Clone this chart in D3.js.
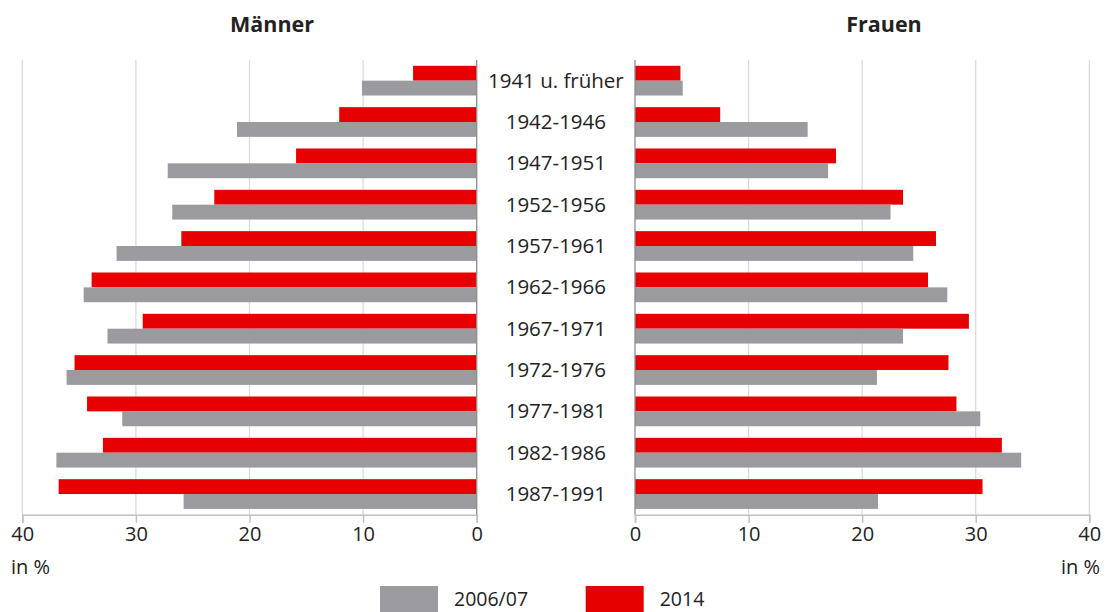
<!DOCTYPE html>
<html>
<head>
<meta charset="utf-8">
<script src="https://cdn.jsdelivr.net/npm/d3@7"></script>
<style>
  body { margin: 0; background: #fff; }
  svg { display: block; font-family: "Open Sans", sans-serif; }
</style>
</head>
<body>
<div id="chart"></div>
<script>
//categories (birth cohorts), top to bottom
let cohorts = ["1941 u. früher", "1942-1946", "1947-1951", "1952-1956", "1957-1961",
  "1962-1966", "1967-1971", "1972-1976", "1977-1981", "1982-1986", "1987-1991"];

let seriesNames = ["2014", "2006/07"];

//values in %
let men2014 = [5.6, 12.1, 15.9, 23.1, 26.0, 33.9, 29.4, 35.4, 34.3, 32.9, 36.8];
let men2006 = [10.1, 21.1, 27.2, 26.8, 31.7, 34.6, 32.5, 36.1, 31.2, 37.0, 25.8];
let women2014 = [4.0, 7.5, 17.7, 23.6, 26.5, 25.8, 29.4, 27.6, 28.3, 32.3, 30.6];
let women2006 = [4.2, 15.2, 17.0, 22.5, 24.5, 27.5, 23.6, 21.3, 30.4, 34.0, 21.4];

let ticks = [0, 10, 20, 30, 40];

let colors = { "2014": "#e60000", "2006/07": "#9b9a9f" };

let width = 1106, height = 612;
let plotTop = 60, plotBottom = 514.7;

let svg = d3.select("#chart").append("svg")
  .attr("width", width)
  .attr("height", height);

//scales
let xLeft = d3.scaleLinear().domain([0, 40]).range([476.7, 22.3]);
let xRight = d3.scaleLinear().domain([0, 40]).range([635, 1089.3]);

let y = d3.scaleBand().domain(cohorts).range([plotTop, plotBottom]);
let ySub = d3.scaleBand().domain(seriesNames).range([0, y.bandwidth()])
  .paddingInner(0).paddingOuter(0.39);

function drawSide(x, values2014, values2006, title, titleX, leftSide) {
  let g = svg.append("g");

  //gridlines
  g.selectAll(".grid")
    .data(ticks.filter(t => t !== 0))
    .enter().append("line")
    .attr("x1", d => x(d)).attr("x2", d => x(d))
    .attr("y1", plotTop).attr("y2", plotBottom)
    .attr("stroke", "#d9d9d9")
    .attr("stroke-width", 1.2);

  //bars
  let rows = cohorts.map((c, i) => ({ c: c, v: { "2014": values2014[i], "2006/07": values2006[i] } }));
  seriesNames.forEach(s => {
    g.selectAll(".bar-" + s.replace("/", ""))
      .data(rows)
      .enter().append("rect")
      .attr("x", d => Math.min(x(0), x(d.v[s])))
      .attr("width", d => Math.abs(x(d.v[s]) - x(0)))
      .attr("y", d => y(d.c) + ySub(s))
      .attr("height", ySub.bandwidth())
      .attr("fill", colors[s]);
  });

  //axis
  let axis = d3.axisBottom(x).tickValues(ticks).tickSize(8).tickPadding(4).tickFormat(d3.format("d"));
  let ax = g.append("g")
    .attr("transform", "translate(0," + plotBottom + ")")
    .call(axis);
  ax.select(".domain").attr("stroke", "#bfbfbf").attr("stroke-width", 1.5);
  ax.selectAll(".tick line").attr("stroke", "#bfbfbf").attr("stroke-width", 1.5);
  ax.selectAll(".tick text")
    .attr("font-family", "Open Sans, sans-serif")
    .attr("font-size", 20)
    .attr("fill", "#222");

  //zero line
  g.append("line")
    .attr("x1", x(0)).attr("x2", x(0))
    .attr("y1", plotTop).attr("y2", plotBottom)
    .attr("stroke", "#8c8c8c")
    .attr("stroke-width", 1.3);

  //unit label
  g.append("text")
    .attr("x", leftSide ? 11 : 1100)
    .attr("y", 574)
    .attr("text-anchor", leftSide ? "start" : "end")
    .attr("font-size", 20)
    .attr("fill", "#222")
    .text("in %");

  //title
  g.append("text")
    .attr("x", titleX)
    .attr("y", 32)
    .attr("text-anchor", "middle")
    .attr("font-size", 21.5)
    .attr("font-weight", "bold")
    .attr("fill", "#222")
    .text(title);
}

drawSide(xLeft, men2014, men2006, "Männer", 272, true);
drawSide(xRight, women2014, women2006, "Frauen", 884, false);

//cohort labels in the middle
svg.append("g")
  .selectAll(".cohort")
  .data(cohorts)
  .enter().append("text")
  .attr("x", (xLeft(0) + xRight(0)) / 2)
  .attr("y", d => y(d) + y.bandwidth() / 2 + 7)
  .attr("text-anchor", "middle")
  .attr("font-size", 20.5)
  .attr("fill", "#222")
  .text(d => d);

//legend
let legend = [
  { name: "2006/07", x: 380 },
  { name: "2014", x: 585.7 }
];
let lg = svg.append("g");
lg.selectAll("rect")
  .data(legend)
  .enter().append("rect")
  .attr("x", d => d.x)
  .attr("y", 586)
  .attr("width", 58)
  .attr("height", 26)
  .attr("fill", d => colors[d.name]);
lg.selectAll("text")
  .data(legend)
  .enter().append("text")
  .attr("x", d => d.x + 74)
  .attr("y", 606)
  .attr("font-size", 19.5)
  .attr("fill", "#222")
  .text(d => d.name);
</script>
</body>
</html>
